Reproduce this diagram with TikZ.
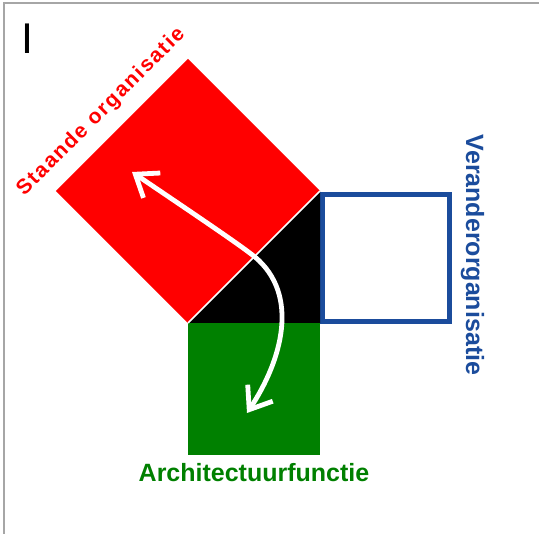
\documentclass[tikz,border=0pt]{standalone}
\usepackage{fontspec}
\setmainfont{Liberation Sans}
\definecolor{archgreen}{HTML}{008000}
\definecolor{verblue}{HTML}{1B4C9C}
\usetikzlibrary{shapes, arrows.meta, positioning, calc}

\begin{document}
\begin{tikzpicture}[x=1pt, y=-1pt,
    sqbox/.style={rectangle, minimum size=132pt, inner sep=0pt, outer sep=0pt},
    lbl/.style={font=\fontsize{25}{30}\selectfont\bfseries, inner sep=0pt, anchor=base},
    arr/.style={{Straight Barb[length=20pt, width=30pt]}-{Straight Barb[length=20pt, width=30pt]},
                line width=4.8pt, white}
  ]
  \useasboundingbox (0,0) rectangle (539,534);
  \draw[gray!70, line width=1.5pt] (4,534) -- (4,3) -- (539,3);

  % corners of the black triangle
  \coordinate (A) at (188,323);
  \coordinate (B) at (320,323);
  \coordinate (C) at (320,191);

  \node[sqbox, fill=red, minimum size=186.7pt, rotate=45] (staande) at (188,191) {};
  \node[sqbox, fill=archgreen] (arch) at (254,389) {};
  \node[sqbox, draw=verblue, line width=5pt, minimum size=127pt] (verander) at (386,258) {};
  \fill (A) -- (B) -- (C) -- cycle;
  \draw[white, line width=1.5pt] (A) -- (C);

  \node[font=\fontsize{43}{50}\selectfont, anchor=base, inner sep=0pt] (cursor) at (27.5,54) {I};
  \node[font=\fontsize{21}{25}\selectfont\bfseries\addfontfeature{LetterSpace=8}, red,
        rotate=45, anchor=base, inner sep=0pt] (staandelbl) at (105,116) {Staande organisatie};
  \node[lbl, archgreen] (archlbl) at (254,482) {Architectuurfunctie};
  \node[lbl, verblue, rotate=-90] (verlbl) at (466,255) {Veranderorganisatie};

  % arrow between the two squares
  \coordinate (up) at (132,172);
  \coordinate (bend) at (255,257);
  \coordinate (down) at (247,413);
  \draw[arr] (up) .. controls (200,218) and (240,245) .. (bend)
    .. controls (300,295) and (282,360) .. (down);
\end{tikzpicture}
\end{document}
